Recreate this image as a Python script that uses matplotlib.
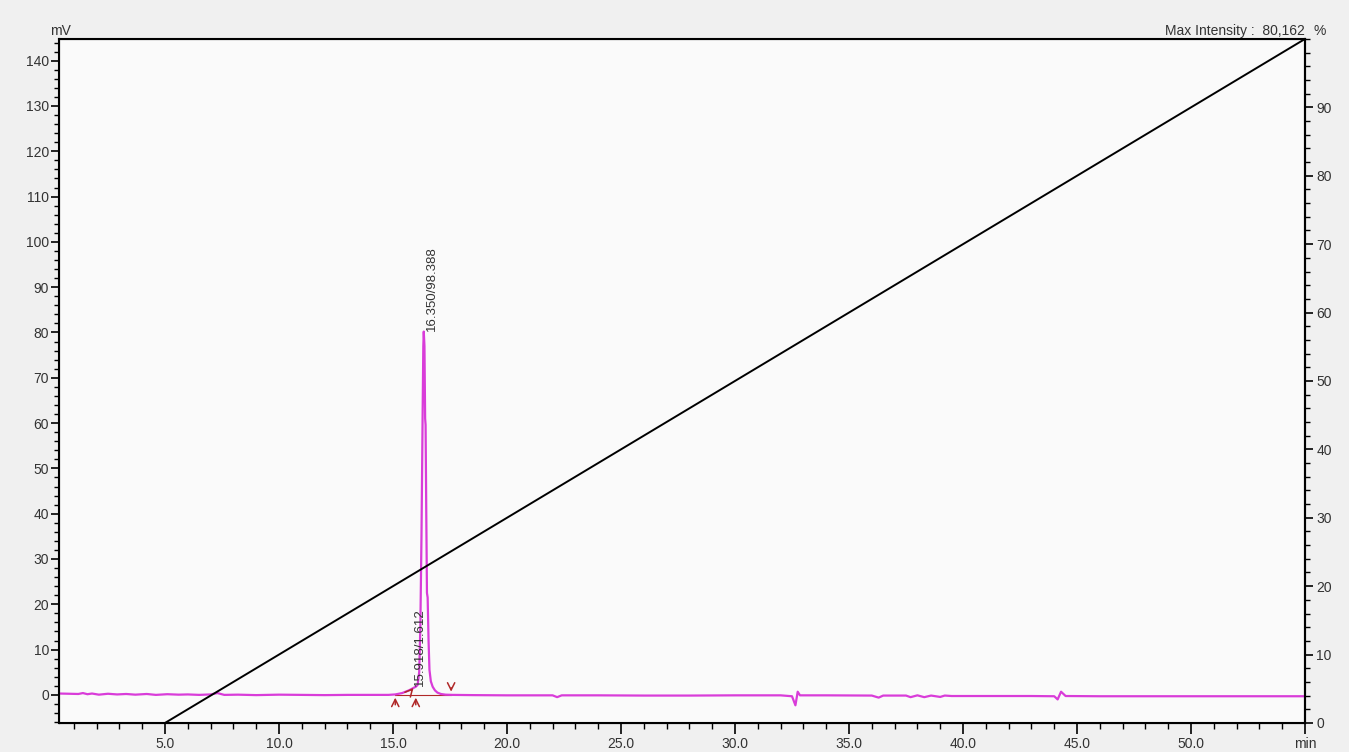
import matplotlib
matplotlib.use('Agg')
import numpy as np
import matplotlib.pyplot as plt
from matplotlib.ticker import MultipleLocator, FixedLocator

# Dados lidos do cromatograma
# tempo (min) e sinal (mV) do detector
tempo = [0.35, 0.8, 1.2, 1.4, 1.6, 1.8, 2.1, 2.5, 2.9, 3.3, 3.7, 4.2, 4.6, 5.1,
         5.6, 6.0, 6.5, 7.0, 7.3, 7.6, 8.2, 9.0, 10.0, 11.0, 12.0, 13.0, 14.0,
         14.8, 15.1, 15.4, 15.7, 15.85, 15.92, 16.0, 16.08, 16.15, 16.2, 16.25,
         16.3, 16.33, 16.35, 16.38, 16.41, 16.43, 16.46, 16.49, 16.52, 16.56,
         16.6, 16.66, 16.74, 16.84, 16.95, 17.1, 17.3, 17.6, 18.5, 20.0, 22.0,
         22.2, 22.4, 24.0, 26.0, 28.0, 30.0, 32.0, 32.5, 32.65, 32.75, 32.85,
         33.0, 34.0, 36.0, 36.3, 36.5, 37.5, 37.7, 38.0, 38.3, 38.6, 39.0, 39.2,
         39.5, 41.0, 43.0, 44.0, 44.15, 44.3, 44.5, 46.0, 50.0, 55.0]
sinal = [0.3, 0.25, 0.2, 0.4, 0.15, 0.3, 0.05, 0.25, 0.1, 0.2, 0.05, 0.2, 0.0,
         0.15, 0.05, 0.1, 0.0, 0.1, 0.4, 0.0, 0.05, -0.05, 0.05, 0.0, -0.05,
         0.0, 0.0, 0.0, 0.1, 0.4, 1.0, 1.4, 1.6, 1.8, 2.2, 5.0, 15.0, 35.0,
         62.0, 77.0, 80.2, 77.0, 61.0, 59.6, 40.0, 22.5, 21.5, 12.0, 5.5, 3.0,
         1.8, 1.0, 0.5, 0.2, 0.05, 0.0, -0.05, -0.1, -0.1, -0.5, -0.1, -0.1,
         -0.15, -0.15, -0.1, -0.1, -0.3, -2.3, 0.7, -0.1, -0.1, -0.1, -0.15,
         -0.6, -0.15, -0.15, -0.5, -0.1, -0.5, -0.15, -0.45, -0.15, -0.25,
         -0.25, -0.25, -0.3, -1.0, 0.7, -0.25, -0.3, -0.3, -0.3]

# Gradiente (% B) x tempo
tempo_grad = [0.35, 5.0, 55.0]
grad = [0.0, 0.0, 100.0]

# Marcadores de integração dos picos
seta_cima_t = [15.1, 16.0]
seta_baixo_t = [17.55]
pico_t = [16.35, 16.2]
pico_y = [80.3, 2.0]
pico_txt = ['16.350/98.388', '15.918/1.612']

xticks = [5, 10, 15, 20, 25, 30, 35, 40, 45, 50, 55]
xtick_labels = ['5.0', '10.0', '15.0', '20.0', '25.0', '30.0', '35.0',
                '40.0', '45.0', '50.0', 'min']

plt.rcParams['font.family'] = ['Liberation Sans', 'DejaVu Sans']
cor_txt = '#333333'
magenta = '#d93cd9'
vermelho = '#b02828'

fig = plt.figure(figsize=(13.49, 7.52), dpi=100, facecolor='#f0f0f0')
ax = fig.add_axes([0.0437, 0.0386, 0.9237, 0.9096])
ax.set_facecolor('#fafafa')

ax.plot(tempo, sinal, color=magenta, lw=1.6, zorder=3)
# linha de base do pico
ax.plot([15.1, 17.55], [0.05, 0.05], color=vermelho, lw=0.8, zorder=2)

# setas de início/fim de integração
seta = dict(arrowstyle='->', color=vermelho, lw=1.1, mutation_scale=13)
for t in seta_cima_t:
    ax.annotate('', xy=(t, 0.0), xytext=(t, -2.8), arrowprops=seta)
for t in seta_baixo_t:
    ax.annotate('', xy=(t, 0.1), xytext=(t, 2.2), arrowprops=seta)
ax.annotate('', xy=(15.98, 2.0), xytext=(15.72, 0.5), arrowprops=seta)

for t, y, s in zip(pico_t, pico_y, pico_txt):
    xt = t + 0.36 if s.startswith('16') else t
    ax.text(xt, y, s, rotation=90, ha='center', va='bottom', fontsize=9.5,
            color=cor_txt, zorder=4)

ax.set_xlim(0.35, 55)
ax.set_ylim(-6.2, 144.8)
ax.xaxis.set_major_locator(FixedLocator(xticks))
ax.set_xticklabels(xtick_labels)
ax.xaxis.set_minor_locator(MultipleLocator(1))
ax.set_yticks(range(0, 141, 10))
ax.yaxis.set_minor_locator(MultipleLocator(2))

ax.tick_params(axis='x', which='major', length=8, width=1.2, pad=2,
               labelsize=10, labelcolor=cor_txt)
ax.tick_params(axis='x', which='minor', length=4, width=1.0)
ax.tick_params(axis='y', which='major', length=6, width=1.2, pad=1,
               labelsize=10, labelcolor=cor_txt)
ax.tick_params(axis='y', which='minor', length=3.5, width=1.0)

for sp in ax.spines.values():
    sp.set_linewidth(1.5)
    sp.set_color('black')

# eixo da direita: gradiente em %
ax2 = ax.twinx()
ax2.plot(tempo_grad, grad, color='black', lw=1.4, zorder=2)
ax2.set_ylim(0, 100)
ax2.set_yticks(range(0, 91, 10))
ax2.yaxis.set_minor_locator(MultipleLocator(2))
ax2.tick_params(axis='y', which='major', length=6, width=1.2, pad=2,
                labelsize=10, labelcolor=cor_txt)
ax2.tick_params(axis='y', which='minor', length=3.5, width=1.0)
ax2.spines['right'].set_linewidth(1.5)

fig.text(0.0452, 0.959, 'mV', ha='center', va='center', fontsize=10,
         color=cor_txt)
fig.text(0.9674, 0.959, 'Max Intensity :  80,162', ha='right', va='center',
         fontsize=10, color=cor_txt)
fig.text(0.978, 0.959, '%', ha='center', va='center', fontsize=10,
         color=cor_txt)

fig.savefig('out.png', dpi=100, facecolor=fig.get_facecolor())
